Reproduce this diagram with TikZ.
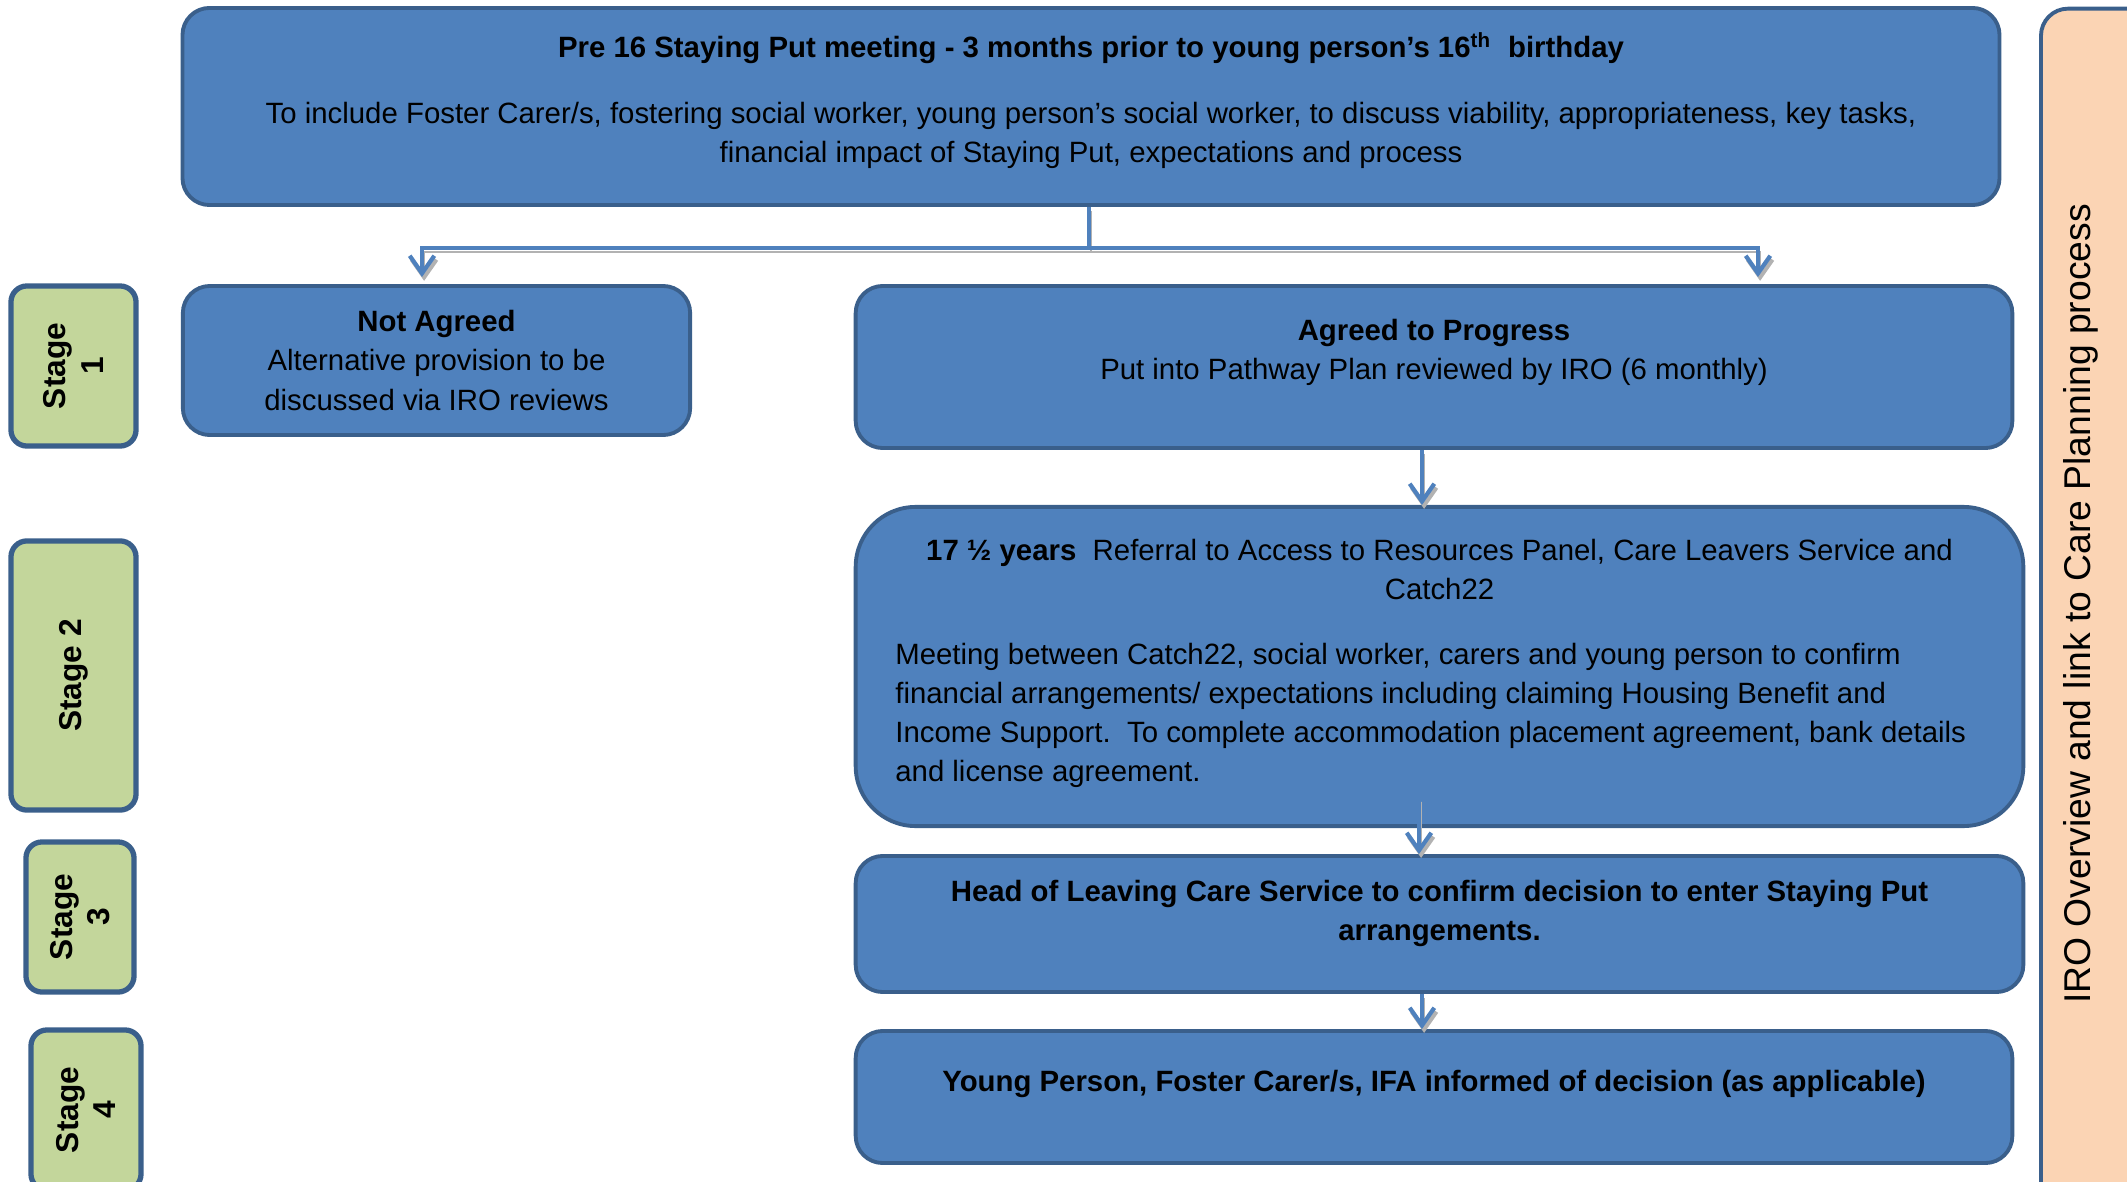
\documentclass[tikz,border=0pt]{standalone}
\usepackage{fontspec}
\setmainfont{Liberation Sans}
\usetikzlibrary{arrows.meta}

\definecolor{boxblue}{HTML}{4F81BD}
\definecolor{boxedge}{HTML}{3A5F8B}
\definecolor{stagegreen}{HTML}{C3D69B}
\definecolor{peach}{HTML}{FBD4B4}

% extra depth below the last line, pushes the text up in its box
\newcommand{\lift}[1]{\rule[-#1]{0pt}{0pt}}

\tikzset{
		stepnode/.style  = {shape=rectangle, rounded corners=0.27cm,
				draw=boxedge, line width=1.1pt, fill=boxblue,
				align=center, inner sep=0pt,
				font=\fontsize{8.35}{11.1}\selectfont},
		bignode/.style   = {stepnode, rounded corners=0.6cm},
		stagebox/.style  = {shape=rectangle, rounded corners=0.16cm,
				draw=boxedge, line width=1.5pt, fill=stagegreen,
				align=center, inner sep=0pt, rotate=90,
				font=\fontsize{9}{10.6}\selectfont\bfseries},
		irobox/.style    = {shape=rectangle, rounded corners=0.27cm,
				draw=boxedge, line width=1.1pt, fill=peach},
		flow/.style      = {draw=boxblue, line width=1.1pt,
				preaction={draw=black!30, transform canvas={shift={(0.6pt,-1.1pt)}}}},
		flowarrow/.style = {flow, -{Straight Barb[length=5pt, width=7pt, line width=1.2pt]}}
	}

\begin{document}
\begin{tikzpicture}[x=0.01cm, y=-0.01cm]
	\useasboundingbox (0,0) rectangle (2127,1182);

	% main flow
	\node [stepnode, minimum width=18.16cm, minimum height=1.97cm] (pre) at (1091,106.5)
		{\textbf{Pre 16 Staying Put meeting - 3 months prior to young person’s 16\textsuperscript{th}\ \ birthday}\\[7.8pt]
		To include Foster Carer/s, fostering social worker, young person’s social worker, to discuss viability, appropriateness, key tasks,\\
		financial impact of Staying Put, expectations and process\lift{5pt}};
	\node [stepnode, minimum width=5.07cm, minimum height=1.49cm] (notagreed) at (436.5,360.5)
		{\textbf{Not Agreed}\\Alternative provision to be\\discussed via IRO reviews};
	\node [stepnode, minimum width=11.56cm, minimum height=1.62cm] (agreed) at (1434,367)
		{\textbf{Agreed to Progress}\\Put into Pathway Plan reviewed by IRO (6 monthly)\lift{10pt}};
	\node [bignode, minimum width=11.67cm, minimum height=3.19cm] (referral) at (1439.5,666.5)
		{\textbf{17 ½ years}\ \ Referral to Access to Resources Panel, Care Leavers Service and\\Catch22\\[9.5pt]
		\hspace*{-5pt}\begin{tabular}{@{}l@{}}
			Meeting between Catch22, social worker, carers and young person to confirm\\
			financial arrangements/ expectations including claiming Housing Benefit and\\
			Income Support.\ \ To complete accommodation placement agreement, bank details\\
			and license agreement.
		\end{tabular}};
	\node [stepnode, minimum width=11.67cm, minimum height=1.36cm] (head) at (1439.5,924)
		{\textbf{Head of Leaving Care Service to confirm decision to enter Staying Put}\\
		\textbf{arrangements.}\lift{8pt}};
	\node [stepnode, minimum width=11.56cm, minimum height=1.32cm] (inform) at (1434,1097)
		{\textbf{Young Person, Foster Carer/s, IFA informed of decision (as applicable)}\lift{9pt}};

	% stages
	\node [stagebox, minimum width=1.6cm, minimum height=1.25cm] (stage1) at (73.5,366) {Stage\\1};
	\node [stagebox, minimum width=2.69cm, minimum height=1.25cm] (stage2) at (73.5,675.5) {Stage 2};
	\node [stagebox, minimum width=1.5cm, minimum height=1.08cm] (stage3) at (80,917) {Stage\\3};
	\node [stagebox, minimum width=1.6cm, minimum height=1.10cm] (stage4) at (86,1110) {Stage\\4};

	% IRO overview
	\node [irobox, minimum width=1.19cm, minimum height=12.06cm] (iro) at (2100.5,612) {};
	\node [rotate=90, font=\fontsize{10.6}{12}\selectfont] (irolabel) at (2081,604)
		{IRO Overview and link to Care Planning process};

	% connectors
	\coordinate (split) at (1089,248);
	\coordinate (lefttip) at (422,277);
	\coordinate (righttip) at (1758,277);
	\coordinate (spine) at (1422,0);
	\draw [flow] (pre.south -| split) -- (split);
	\draw [flowarrow] (split) -| (lefttip);
	\draw [flowarrow] (split) -| (righttip);
	\draw [flowarrow] (agreed.south -| spine) -- (referral.north -| spine);
	\draw [flowarrow] (referral.south -| spine) ++(-3,-30) -- ([xshift=-0.03cm]head.north -| spine);
	\draw [flowarrow] (head.south -| spine) -- (inform.north -| spine);
\end{tikzpicture}
\end{document}
